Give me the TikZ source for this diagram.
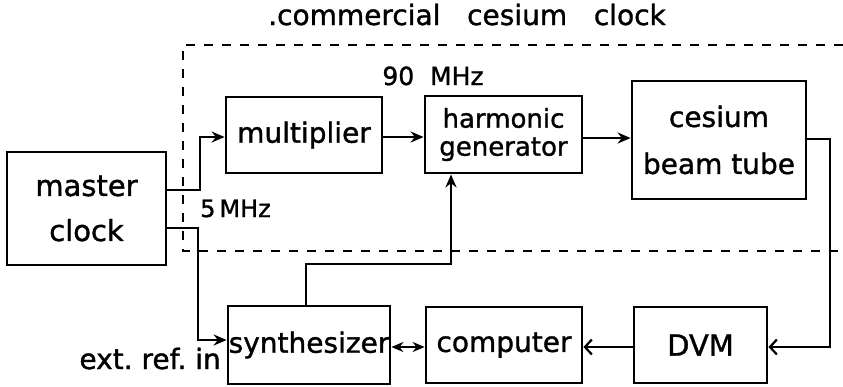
\documentclass[tikz,border=0pt]{standalone}
\usepackage{fontspec}
\setmainfont[FakeBold=1.2]{DejaVu Sans}
\usetikzlibrary{arrows.meta}
\tikzset{
  blk/.style={draw, line width=2.8pt, inner sep=0pt, align=center},
  wire/.style={line width=2.5pt},
  fa/.style={wire, -{Stealth[length=13pt,width=11pt]}},
  oa/.style={wire, -{Straight Barb[length=7pt,width=15pt,line width=2.2pt]}},
  da/.style={wire, {Stealth[length=12pt,width=10pt]}-{Stealth[length=12pt,width=10pt]}},
  frame/.style={line width=2.2pt, dash pattern=on 9pt off 9pt},
  lbl/.style={inner sep=0pt}
}
\begin{document}
\begin{tikzpicture}[x=1pt,y=-1pt]
\useasboundingbox (0,0) rectangle (843,386);
% dashed enclosure
\coordinate (f1) at (843,45);
\coordinate (f2) at (183,45);
\coordinate (f3) at (183,251);
\coordinate (f4) at (843,251);
\draw[frame] (f1) -- (f2) -- (f3) -- (f4);
\node[lbl, anchor=base, font=\fontsize{28}{30}\selectfont] (title) at (467,25) {.commercial\ \ \ cesium\ \ \ clock};

% blocks
\node[blk, minimum width=159pt, minimum height=113pt, font=\fontsize{29}{45}\selectfont] (master) at (86.5,208.5)
  {master\\clock};
\node[blk, minimum width=156pt, minimum height=76pt, font=\fontsize{28}{30}\selectfont] (mult) at (304,135)
  {multiplier};
\node[blk, minimum width=157pt, minimum height=77pt, font=\fontsize{26}{28}\selectfont] (harm) at (503.5,134.5)
  {harmonic\\generator};
\node[blk, minimum width=174pt, minimum height=118pt, font=\fontsize{28}{47}\selectfont] (cs) at (719,140)
  {cesium\\beam tube};
\node[blk, minimum width=162pt, minimum height=78pt, font=\fontsize{28}{30}\selectfont] (synth) at (309,345)
  {synthesizer};
\node[blk, minimum width=156pt, minimum height=76pt, font=\fontsize{28}{30}\selectfont] (comp) at (504,345)
  {computer};
\node[blk, minimum width=133pt, minimum height=76pt, font=\fontsize{29}{30}\selectfont] (dvm) at (700.5,345)
  {DVM};

% labels
\node[lbl, anchor=base, font=\fontsize{25}{27}\selectfont] (l90) at (433,85) {90\ \ MHz};
\node[lbl, anchor=base west, font=\fontsize{24}{26}\selectfont] (l5) at (200,217) {5\,MHz};
\node[lbl, anchor=base east, font=\fontsize{28}{30}\selectfont] (lext) at (221,369) {ext.\ ref.\ in};

% connectors
\draw[fa] (master.east |- 0,190) -| (200,137) -- (mult.west |- 0,137);
\draw[fa] (master.east |- 0,228) -| (198,340) -- (synth.west |- 0,340);
\draw[fa] (mult.east |- 0,137) -- (harm.west |- 0,137);
\draw[fa] (harm.east |- 0,138) -- (cs.west |- 0,138);
\draw[oa] (cs.east |- 0,139) -| (830,347) -- (dvm.east |- 0,347);
\draw[oa] (dvm.west |- 0,347) -- (comp.east |- 0,347);
\draw[da] (synth.east |- 0,347) -- (comp.west |- 0,347);
\draw[fa] (306,0 |- synth.north) -- (306,264) -| (451,0 |- harm.south);
\end{tikzpicture}
\end{document}
